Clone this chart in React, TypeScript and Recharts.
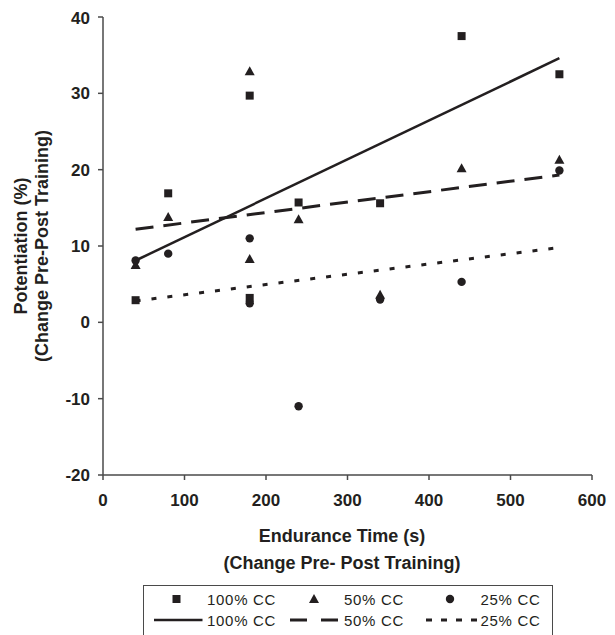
import React from "react";
import { ScatterChart, Scatter, XAxis, YAxis } from "recharts";

// endurance time change (s) for each subject column
const endurance = [40, 80, 180, 180, 240, 340, 440, 560];
const cc100 = [2.9, 16.9, 29.7, 3.2, 15.7, 15.6, 37.5, 32.5];
const cc50 = [7.5, 13.8, 32.9, 8.3, 13.5, 3.6, 20.2, 21.3];
const cc25 = [8.1, 9.0, 11.0, 2.5, -11.0, 3.0, 5.3, 19.9];

// regression lines, read at the ends of the data range
const fitX = [40, 560];
const fit100 = [8.1, 34.6];
const fit50 = [12.2, 19.3];
const fit25 = [2.8, 9.8];

const xTicks = [0, 100, 200, 300, 400, 500, 600];
const yTicks = [-20, -10, 0, 10, 20, 30, 40];

const INK = "#231f20";
const AXIS = "#4a4a4a";
const FONT = "'Liberation Sans', Arial, sans-serif";

const toPoints = (xs: number[], ys: number[]) => xs.map((x, i) => ({ x, y: ys[i] }));

const SquareDot = (p: any) => (
  <rect x={p.cx - 4} y={p.cy - 4} width={8} height={8} fill={INK} />
);
const TriangleDot = (p: any) => (
  <polygon
    points={`${p.cx},${p.cy - 5} ${p.cx + 5},${p.cy + 4} ${p.cx - 5},${p.cy + 4}`}
    fill={INK}
  />
);
const CircleDot = (p: any) => <circle cx={p.cx} cy={p.cy} r={4.2} fill={INK} />;
const NoDot = () => <g />;

const YTitle = () => (
  <g fontFamily={FONT} fontSize={18} fontWeight="bold" fill={INK}>
    <text x={13} y={238} transform="rotate(-90, 13, 238)" textAnchor="middle" dominantBaseline="central">
      Potentiation (%)
    </text>
    <text x={34} y={238} transform="rotate(-90, 34, 238)" textAnchor="middle" dominantBaseline="central">
      (Change Pre-Post Training)
    </text>
  </g>
);

const XTitle = () => (
  <g fontFamily={FONT} fontSize={18} fontWeight="bold" fill={INK}>
    <text x={334} y={528} textAnchor="middle" dominantBaseline="central">
      Endurance Time (s)
    </text>
    <text x={334} y={555} textAnchor="middle" dominantBaseline="central">
      (Change Pre- Post Training)
    </text>
  </g>
);

const LegendBox = () => (
  <div
    style={{
      position: "absolute",
      left: 135,
      top: 577,
      width: 410,
      height: 56,
      border: `1.5px solid ${AXIS}`,
      boxSizing: "border-box",
    }}
  >
    <svg width={410} height={56} style={{ position: "absolute", left: -1.5, top: -1.5 }}>
      <g fontFamily={FONT} fontSize={15} fill={INK} letterSpacing={0.7}>
        <rect x={29.5} y={10} width={8} height={8} fill={INK} />
        <text x={64} y={14} dominantBaseline="central">100% CC</text>
        <polygon points="171,9 176,18 166,18" fill={INK} />
        <text x={201} y={14} dominantBaseline="central">50% CC</text>
        <circle cx={307} cy={14} r={4.2} fill={INK} />
        <text x={337.5} y={14} dominantBaseline="central">25% CC</text>

        <line x1={11} x2={59.5} y1={35} y2={35} stroke={INK} strokeWidth={2.5} />
        <text x={64} y={35} dominantBaseline="central">100% CC</text>
        <line x1={147} x2={195} y1={35} y2={35} stroke={INK} strokeWidth={3} strokeDasharray="17 14" />
        <text x={201} y={35} dominantBaseline="central">50% CC</text>
        <line x1={283} x2={336} y1={35} y2={35} stroke={INK} strokeWidth={3} strokeDasharray="6 9" />
        <text x={337.5} y={35} dominantBaseline="central">25% CC</text>
      </g>
    </svg>
  </div>
);

export default function App() {
  return (
    <div style={{ position: "relative", width: 600, height: 627, overflow: "hidden" }}>
      <ScatterChart width={600} height={627} margin={{ top: 9, right: 16, bottom: 130, left: 0 }}>
        <XAxis
          type="number"
          dataKey="x"
          domain={[0, 600]}
          ticks={xTicks}
          height={30}
          stroke={AXIS}
          strokeWidth={1.5}
          tickSize={5}
          tickMargin={14}
          tick={{ fill: INK, fontSize: 17, fontWeight: "bold", fontFamily: FONT }}
          label={{ content: XTitle }}
        />
        <YAxis
          type="number"
          dataKey="y"
          domain={[-20, 40]}
          ticks={yTicks}
          width={95}
          stroke={AXIS}
          strokeWidth={1.5}
          tickSize={5}
          tickMargin={8}
          tick={{ fill: INK, fontSize: 17, fontWeight: "bold", fontFamily: FONT }}
          label={{ content: YTitle }}
        />
        <Scatter
          name="100% CC fit"
          data={toPoints(fitX, fit100)}
          fill={INK}
          line={{ stroke: INK, strokeWidth: 2.5 }}
          shape={NoDot}
          isAnimationActive={false}
        />
        <Scatter
          name="50% CC fit"
          data={toPoints(fitX, fit50)}
          fill={INK}
          line={{ stroke: INK, strokeWidth: 3, strokeDasharray: "18 10" }}
          shape={NoDot}
          isAnimationActive={false}
        />
        <Scatter
          name="25% CC fit"
          data={toPoints(fitX, fit25)}
          fill={INK}
          line={{ stroke: INK, strokeWidth: 3, strokeDasharray: "5 11" }}
          shape={NoDot}
          isAnimationActive={false}
        />
        <Scatter name="100% CC" data={toPoints(endurance, cc100)} fill={INK} shape={SquareDot} isAnimationActive={false} />
        <Scatter name="50% CC" data={toPoints(endurance, cc50)} fill={INK} shape={TriangleDot} isAnimationActive={false} />
        <Scatter name="25% CC" data={toPoints(endurance, cc25)} fill={INK} shape={CircleDot} isAnimationActive={false} />
      </ScatterChart>
      <LegendBox />
    </div>
  );
}
